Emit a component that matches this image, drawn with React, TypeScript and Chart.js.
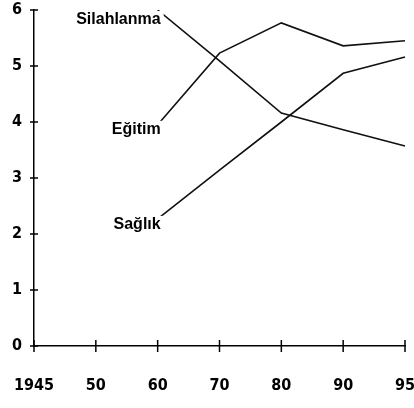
import React, { useEffect, useRef } from "react";
import { Chart, registerables } from "chart.js";

Chart.register(...registerables);

const years = ["1945", "50", "60", "70", "80", "90", "95"];
const silahlanma = [null, null, 6.0, 5.09, 4.16, 3.86, 3.57];
const egitim = [null, null, 3.95, 5.23, 5.77, 5.36, 5.45];
const saglik = [null, null, 2.27, 3.14, 4.0, 4.87, 5.16];
const yTicks = [0, 1, 2, 3, 4, 5, 6];

const seriesLabels = ["Silahlanma", "Eğitim", "Sağlık"];
const labelOffsets = [14, 9, 10];

const crossTicks = {
  id: "crossTicks",
  afterDraw(chart: any) {
    const ctx = chart.ctx;
    const xs = chart.scales.x;
    const ys = chart.scales.y;
    const area = chart.chartArea;
    ctx.save();
    ctx.strokeStyle = "#000";
    ctx.lineWidth = 1.5;
    xs.ticks.forEach((_t: any, i: number) => {
      const px = xs.getPixelForTick(i);
      ctx.beginPath();
      ctx.moveTo(px, area.bottom - 6);
      ctx.lineTo(px, area.bottom + 6);
      ctx.stroke();
    });
    ys.ticks.forEach((_t: any, i: number) => {
      const py = ys.getPixelForTick(i);
      ctx.beginPath();
      ctx.moveTo(area.left - 4, py);
      ctx.lineTo(area.left + 4, py);
      ctx.stroke();
    });
    ctx.restore();
  },
};

const seriesText = {
  id: "seriesText",
  afterDatasetsDraw(chart: any) {
    const ctx = chart.ctx;
    ctx.save();
    ctx.font = "bold 16px 'Liberation Sans', Arial, sans-serif";
    ctx.textAlign = "right";
    ctx.textBaseline = "alphabetic";
    chart.data.datasets.forEach((ds: any, di: number) => {
      const meta = chart.getDatasetMeta(di);
      const idx = ds.data.findIndex((v: any) => v !== null);
      const pt = meta.data[idx];
      const x = pt.x + 3;
      const y = pt.y + labelOffsets[di];
      const w = ctx.measureText(seriesLabels[di]).width;
      ctx.fillStyle = "#fff";
      ctx.fillRect(x - w - 1, y - 13, w + 4, 17);
      ctx.fillStyle = "#000";
      ctx.fillText(seriesLabels[di], x, y);
    });
    ctx.restore();
  },
};

const tickFont = {
  family: "'Liberation Sans Narrow', 'DejaVu Sans Condensed', sans-serif",
  size: 16,
  weight: "bold" as const,
};

export default function App() {
  const ref = useRef<HTMLCanvasElement>(null);
  useEffect(() => {
    if (!ref.current) return;
    const mk = (data: any[]) => ({
      data,
      borderColor: "#111",
      borderWidth: 1.6,
      pointRadius: 0,
      fill: false,
      tension: 0,
      spanGaps: false,
    });
    const chart = new Chart(ref.current, {
      type: "line",
      data: {
        labels: years,
        datasets: [mk(silahlanma), mk(egitim), mk(saglik)],
      },
      options: {
        animation: false,
        responsive: false,
        layout: { padding: { top: 10, right: 9, left: 0, bottom: 0 } },
        plugins: { legend: { display: false }, tooltip: { enabled: false } },
        scales: {
          x: {
            type: "category",
            offset: false,
            afterFit: (s: any) => {
              s.height = 62;
              s.paddingLeft = 0;
              s.paddingRight = 0;
            },
            grid: { drawOnChartArea: false, drawTicks: false },
            border: { display: true, color: "#000", width: 1.5 },
            ticks: {
              color: "#000",
              padding: 30,
              maxRotation: 0,
              autoSkip: false,
              font: tickFont,
            },
          },
          y: {
            min: 0,
            max: 6,
            afterFit: (s: any) => {
              s.width = 34;
              s.paddingTop = 0;
              s.paddingBottom = 0;
            },
            afterBuildTicks: (s: any) => {
              s.ticks = yTicks.map((v) => ({ value: v }));
            },
            grid: { drawOnChartArea: false, drawTicks: false },
            border: { display: true, color: "#000", width: 1.5 },
            ticks: {
              color: "#000",
              padding: 12,
              font: tickFont,
            },
          },
        },
      },
      plugins: [crossTicks, seriesText],
    });
    return () => chart.destroy();
  }, []);
  return (
    <div style={{ position: "absolute", left: 0, top: 0, width: 414, height: 408, background: "#fff" }}>
      <canvas ref={ref} width={414} height={408} />
    </div>
  );
}
